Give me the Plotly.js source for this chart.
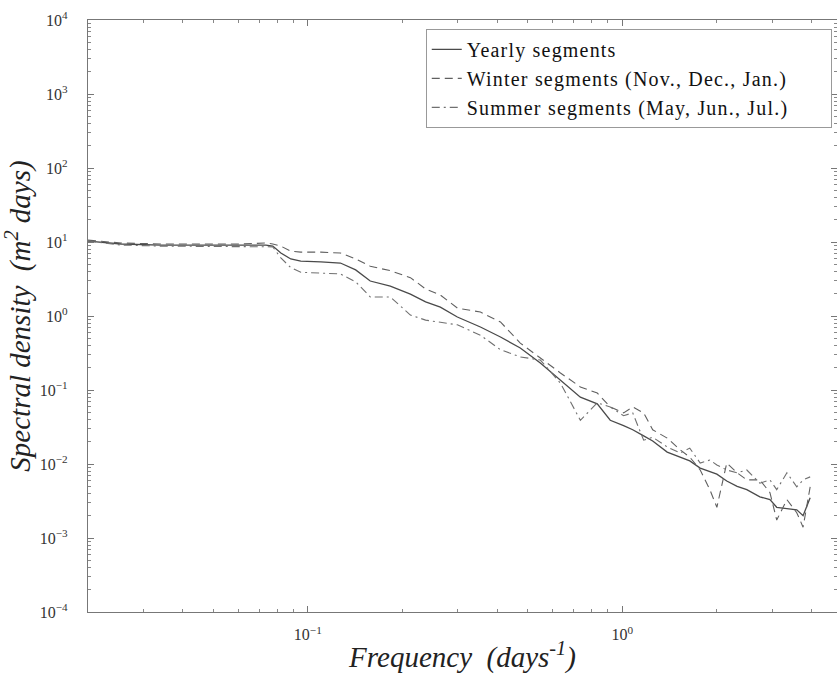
<!DOCTYPE html>
<html>
<head>
<meta charset="utf-8">
<script src="https://cdn.plot.ly/plotly-3.0.1.min.js"></script>
<style>
html,body{margin:0;padding:0;background:#fff;overflow:hidden;}
#chart{width:837px;height:688px;}
.legendtext{letter-spacing:1.2px;}
</style>
</head>
<body>
<div id="chart"></div>
<script>
// Frequency (days^-1)
var frequency = [0.02, 0.0255, 0.0341, 0.0457, 0.0612, 0.0736, 0.0774, 0.0821, 0.0883, 0.095,
  0.110, 0.127, 0.142, 0.158, 0.183, 0.212, 0.237, 0.264, 0.299, 0.354,
  0.410, 0.474, 0.549, 0.636, 0.736, 0.833, 0.916, 1.01, 1.08, 1.17,
  1.25, 1.39, 1.53, 1.64, 1.77, 1.90, 2.00, 2.15, 2.32, 2.49,
  2.74, 2.95, 3.10, 3.34, 3.59, 3.76, 3.96];

// Spectral density (m^2 days)
var yearly = [10.3, 9.4, 9.1, 9.1, 9.1, 9.1, 8.8, 7.1, 5.9, 5.5,
  5.4, 5.2, 4.2, 2.97, 2.54, 1.98, 1.55, 1.32, 0.97, 0.71,
  0.52, 0.37, 0.232, 0.136, 0.080, 0.065, 0.039, 0.033, 0.029, 0.024,
  0.0205, 0.0145, 0.0124, 0.0110, 0.0088, 0.0080, 0.0073, 0.0059, 0.0050, 0.0045,
  0.0036, 0.0033, 0.0026, 0.0025, 0.0024, 0.0020, 0.0035];

var winter = [10.6, 9.7, 9.4, 9.4, 9.4, 9.7, 9.4, 8.8, 7.5, 7.3,
  7.3, 7.1, 5.9, 4.7, 4.1, 3.3, 2.32, 1.92, 1.28, 1.13,
  0.83, 0.43, 0.27, 0.17, 0.110, 0.091, 0.059, 0.049, 0.059, 0.049,
  0.029, 0.0224, 0.0155, 0.0124, 0.0083, 0.0045, 0.0026, 0.0103, 0.0076, 0.0061,
  0.0061, 0.0041, 0.00175, 0.0033, 0.0022, 0.0014, 0.0049];

var summer = [10.3, 9.1, 8.8, 8.8, 8.8, 8.8, 8.6, 6.1, 4.5, 3.9,
  3.8, 3.7, 2.9, 1.81, 1.81, 1.03, 0.88, 0.83, 0.76, 0.55,
  0.35, 0.28, 0.254, 0.124, 0.039, 0.067, 0.059, 0.045, 0.049, 0.021,
  0.023, 0.017, 0.0141, 0.0164, 0.0103, 0.0113, 0.0097, 0.0083, 0.0076, 0.0083,
  0.0055, 0.0061, 0.0045, 0.0076, 0.0049, 0.0061, 0.0067];

var seriesNames = ['Yearly segments', 'Winter segments (Nov., Dec., Jan.)', 'Summer segments (May, Jun., Jul.)'];

// Tick labels
var xTickVals = [0.1, 1];
var xTickText = ['10<sup>\u22121</sup>', '10<sup>0</sup>'];
var yTickVals = [1e-4, 1e-3, 1e-2, 1e-1, 1, 10, 100, 1000, 10000];
var yTickText = ['10<sup>\u22124</sup>', '10<sup>\u22123</sup>', '10<sup>\u22122</sup>', '10<sup>\u22121</sup>',
  '10<sup>0</sup>', '10<sup>1</sup>', '10<sup>2</sup>', '10<sup>3</sup>', '10<sup>4</sup>'];

var serif = 'Liberation Serif, Times New Roman, serif';
// blank right padding inside the legend box (like the original's wide legend)
var legendPad = '\u00A0\u00A0\u00A0\u00A0\u00A0\u00A0';

var traces = [
  {x: frequency, y: yearly, name: seriesNames[0] + legendPad, mode: 'lines', type: 'scatter',
   line: {color: '#4a4a4a', width: 1.3, dash: 'solid'}},
  {x: frequency, y: winter, name: seriesNames[1] + legendPad, mode: 'lines', type: 'scatter',
   line: {color: '#606060', width: 1.1, dash: '8px,5px'}},
  {x: frequency, y: summer, name: seriesNames[2] + legendPad, mode: 'lines', type: 'scatter',
   line: {color: '#707070', width: 1.1, dash: '8px,4px,2px,4px'}}
];

var axisCommon = {
  type: 'log', showgrid: false, zeroline: false, showline: true, linecolor: '#777', linewidth: 1.2,
  mirror: 'ticks', ticks: 'inside', ticklen: 6, tickcolor: '#777', tickwidth: 1,
  tickmode: 'array',
  tickfont: {family: serif, size: 16, color: '#333'},
  minor: {ticks: 'inside', ticklen: 3, tickcolor: '#888', dtick: 'D1', showgrid: false}
};

var layout = {
  width: 837, height: 688,
  margin: {l: 88, r: 0, t: 20, b: 76},
  paper_bgcolor: '#fff', plot_bgcolor: '#fff',
  showlegend: true,
  legend: {
    x: 0.993, xanchor: 'right', y: 0.985, yanchor: 'top',
    bgcolor: '#fff', bordercolor: '#999', borderwidth: 1,
    font: {family: serif, size: 20, color: '#111'},
    tracegroupgap: 0, itemwidth: 30
  },
  xaxis: Object.assign({}, axisCommon, {
    range: [Math.log10(0.02), Math.log10(4.82)],
    tickvals: xTickVals, ticktext: xTickText,
    ticklabelstandoff: 8,
    title: {text: 'Frequency  (days<sup>-1</sup>)', standoff: 4,
            font: {family: serif, size: 29, color: '#222', style: 'italic'}}
  }),
  yaxis: Object.assign({}, axisCommon, {
    range: [-4, 4],
    tickvals: yTickVals, ticktext: yTickText,
    ticklabelstandoff: 16,
    title: {text: 'Spectral density  (m<sup>2</sup> days)', standoff: 2,
            font: {family: serif, size: 29, color: '#222', style: 'italic'}}
  })
};

Plotly.newPlot('chart', traces, layout, {displayModeBar: false, staticPlot: true});
</script>
</body>
</html>
